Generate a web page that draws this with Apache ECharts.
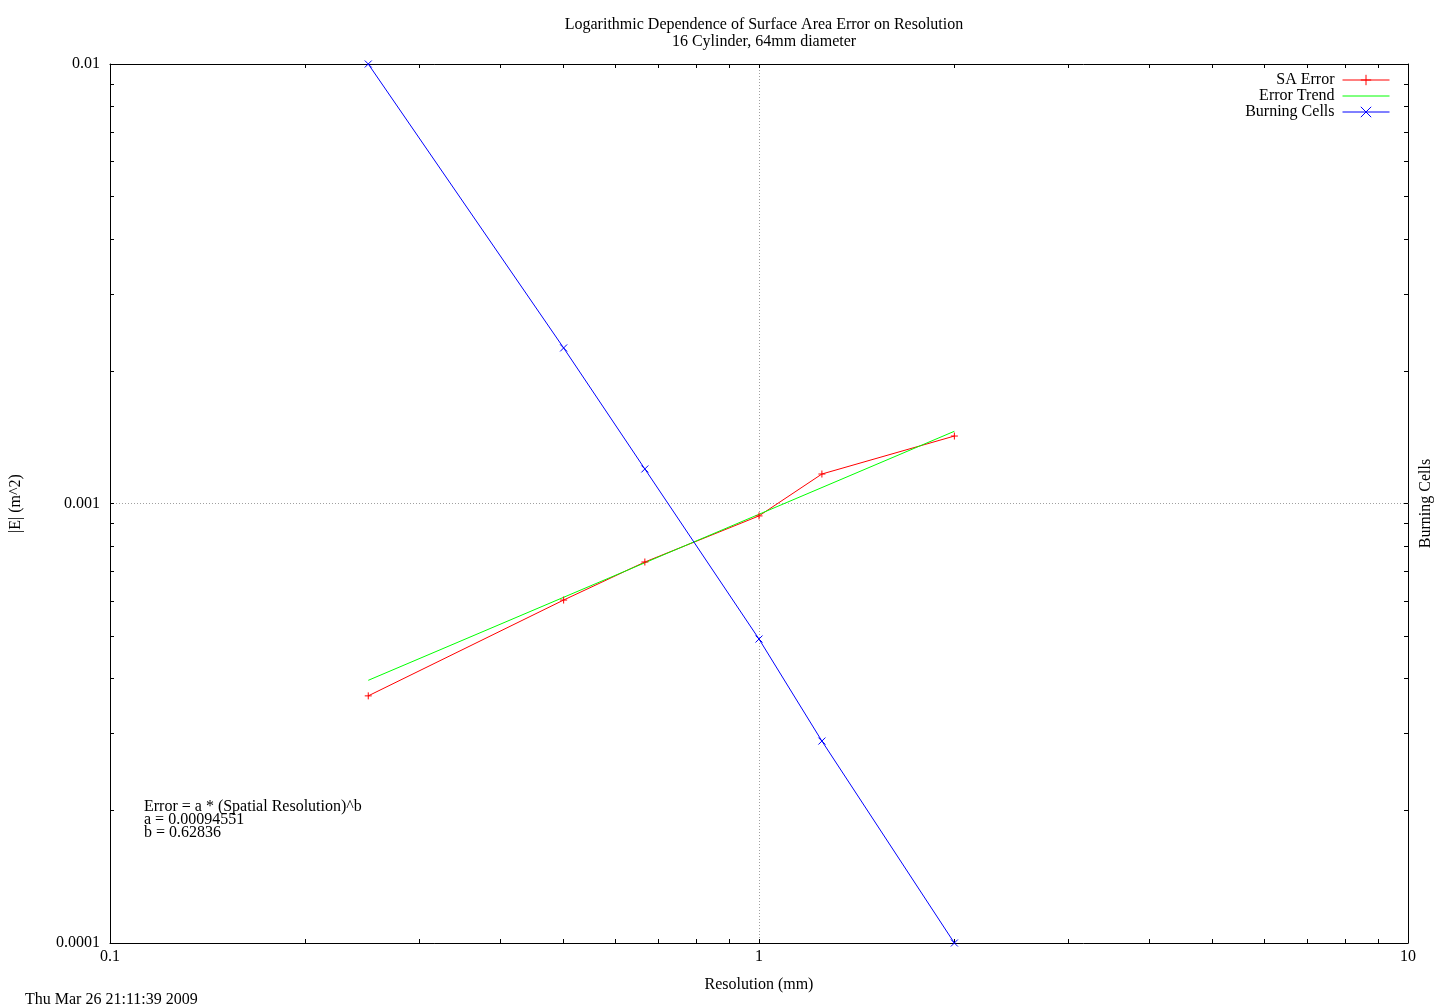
<!DOCTYPE html>
<html>
<head>
<meta charset="utf-8">
<script src="https://cdn.jsdelivr.net/npm/echarts@6/dist/echarts.min.js"></script>
<style>html,body{margin:0;padding:0;background:#fff;}#c{width:1440px;height:1008px;}</style>
</head>
<body>
<div id="c"></div>
<script>
// Data
var resolution = [0.25, 0.5, 0.667, 1, 1.25, 2];
var saError = [0.000365, 0.000603, 0.000736, 0.000937, 0.001167, 0.001424];
var trendX = [0.25, 2];
var trendY = [0.000396, 0.00146];
var burningCells = [64000, 16700, 9420, 4213, 2600, 1000];
var xTickValues = [0.1,0.2,0.3,0.4,0.5,0.6,0.7,0.8,0.9,1,2,3,4,5,6,7,8,9,10];
var yTickValues = [0.0001,0.0002,0.0003,0.0004,0.0005,0.0006,0.0007,0.0008,0.0009,0.001,0.002,0.003,0.004,0.005,0.006,0.007,0.008,0.009,0.01];

var FONT = '"Liberation Serif", "DejaVu Serif", serif';
var FS = 16;

function zip(a, b) { return a.map(function (v, i) { return [v, b[i]]; }); }
function fmt(v) { return String(Number(v.toPrecision(6))); }

var chart = echarts.init(document.getElementById('c'), null, {renderer: 'canvas'});
var axisLineStyle = {show: true, lineStyle: {color: '#000', width: 1}};
var option = {
  backgroundColor: '#fff',
  animation: false,
  textStyle: {fontFamily: FONT, fontSize: FS, color: '#000'},
  title: {
    text: 'Logarithmic Dependence of Surface Area Error on Resolution\n16 Cylinder, 64mm diameter',
    left: 759, top: 11, textAlign: 'center',
    textStyle: {fontFamily: FONT, fontSize: FS, fontWeight: 'normal', color: '#000', lineHeight: 17, align: 'center'}
  },
  legend: {
    orient: 'vertical', right: 45, top: 67, align: 'right',
    itemWidth: 47, itemHeight: 13, itemGap: 0,
    textStyle: {fontFamily: FONT, fontSize: FS, color: '#000', lineHeight: 16, padding: [0, 3, 0, 0]},
    lineStyle: {width: 1},
    itemStyle: {borderWidth: 1},
    data: ['SA Error', 'Error Trend', 'Burning Cells']
  },
  grid: {left: 110, right: 32, top: 64, bottom: 65, containLabel: false, outerBoundsMode: 'none'},
  xAxis: [
    {type: 'log', logBase: 10, min: 0.1, max: 10, position: 'bottom',
     name: 'Resolution (mm)', nameLocation: 'middle', nameGap: 34,
     nameTextStyle: {fontFamily: FONT, fontSize: FS, color: '#000'},
     axisLine: axisLineStyle,
     axisTick: {show: true, inside: true, length: 4, customValues: xTickValues, lineStyle: {color: '#000'}},
     axisLabel: {fontFamily: FONT, fontSize: FS, color: '#000', margin: 6, formatter: fmt},
     splitLine: {show: false}},
    {type: 'log', logBase: 10, min: 0.1, max: 10, position: 'top',
     axisLine: axisLineStyle,
     axisTick: {show: true, inside: true, length: 4, customValues: xTickValues, lineStyle: {color: '#000'}},
     axisLabel: {show: false}, splitLine: {show: false}},
    {type: 'log', logBase: 10, min: 0.1, max: 10, position: 'bottom',
     axisLine: {show: false}, axisTick: {show: false}, axisLabel: {show: false},
     splitLine: {show: true, lineStyle: {color: '#a0a0a0', type: [1, 2], width: 1}}}
  ],
  yAxis: [
    {type: 'log', logBase: 10, min: 0.0001, max: 0.01, position: 'left',
     name: '|E| (m^2)', nameLocation: 'middle', nameGap: 86, nameRotate: 90,
     nameTextStyle: {fontFamily: FONT, fontSize: FS, color: '#000'},
     axisLine: axisLineStyle,
     axisTick: {show: true, inside: true, length: 4, customValues: yTickValues, lineStyle: {color: '#000'}},
     axisLabel: {fontFamily: FONT, fontSize: FS, color: '#000', margin: 10, formatter: fmt},
     splitLine: {show: false}},
    {type: 'log', logBase: 10, min: 0.0001, max: 0.01, position: 'right',
     name: 'Burning Cells', nameLocation: 'middle', nameGap: 10, nameRotate: 90,
     nameTextStyle: {fontFamily: FONT, fontSize: FS, color: '#000'},
     axisLine: axisLineStyle,
     axisTick: {show: true, inside: true, length: 4, customValues: yTickValues, lineStyle: {color: '#000'}},
     axisLabel: {show: false}, splitLine: {show: false}},
    {type: 'log', logBase: 10, min: 0.0001, max: 0.01, position: 'left',
     axisLine: {show: false}, axisTick: {show: false}, axisLabel: {show: false},
     splitLine: {show: true, lineStyle: {color: '#a0a0a0', type: [1, 2], width: 1}}},
    {type: 'log', logBase: 10, min: 'dataMin', max: 'dataMax', position: 'right',
     axisLine: {show: false}, axisTick: {show: false}, axisLabel: {show: false}, splitLine: {show: false}}
  ],
  graphic: [
    {type: 'text', left: 144, top: 799, style: {text: 'Error = a * (Spatial Resolution)^b\na = 0.00094551\nb = 0.62836', font: FS + 'px ' + FONT, fill: '#000', lineHeight: 13}},
    {type: 'text', left: 25, top: 992, style: {text: 'Thu Mar 26 21:11:39 2009', font: FS + 'px ' + FONT, fill: '#000'}}
  ],
  series: [
    {name: 'SA Error', type: 'line', xAxisIndex: 0, yAxisIndex: 0, data: zip(resolution, saError),
     symbol: 'path://M0,5L10,5M5,0L5,10', symbolSize: 7, showAllSymbol: true,
     lineStyle: {color: '#ff0000', width: 1},
     itemStyle: {color: 'rgba(0,0,0,0)', borderColor: '#ff0000', borderWidth: 1}},
    {name: 'Error Trend', type: 'line', xAxisIndex: 0, yAxisIndex: 0, data: zip(trendX, trendY),
     symbol: 'none', legendIcon: 'path://M0,5L10,5', lineStyle: {color: '#00ff00', width: 1},
     itemStyle: {color: 'rgba(0,0,0,0)', borderColor: 'rgba(0,0,0,0)', borderWidth: 0}},
    {name: 'Burning Cells', type: 'line', xAxisIndex: 0, yAxisIndex: 3, data: zip(resolution, burningCells),
     symbol: 'path://M0,0L10,10M0,10L10,0', symbolSize: 7, showAllSymbol: true,
     lineStyle: {color: '#0000ff', width: 1},
     itemStyle: {color: 'rgba(0,0,0,0)', borderColor: '#0000ff', borderWidth: 1}}
  ]
};
chart.setOption(option);
</script>
</body>
</html>
